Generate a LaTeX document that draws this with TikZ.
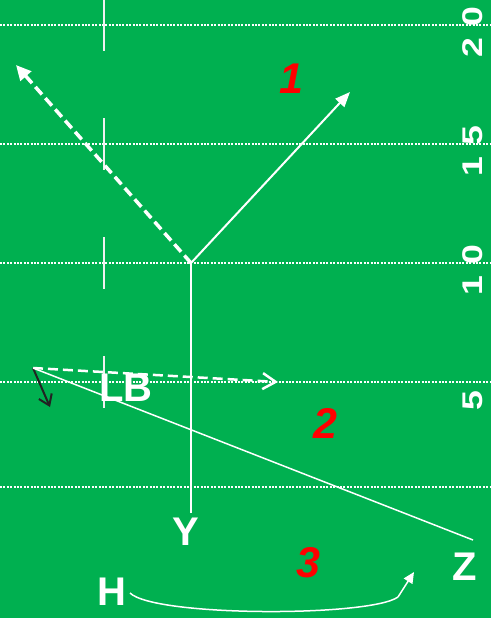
\documentclass[tikz,border=0pt]{standalone}
\usepackage{fontspec}
\setmainfont{Liberation Sans}
\newfontfamily\yardfont[FakeStretch=1.25]{Liberation Sans}
\usetikzlibrary{arrows.meta}
\definecolor{field}{HTML}{00B050}
\definecolor{playred}{HTML}{FF0000}
\definecolor{darkline}{HTML}{222222}
\tikzset{
  yardline/.style={white, line width=1.5pt, dash pattern=on 2pt off 1.4pt},
  hashmark/.style={white!94!black, line width=2pt},
  player/.style={text=white, font=\bfseries\fontsize{40}{40}\selectfont, inner sep=0pt},
  playnum/.style={text=playred, font=\bfseries\itshape\fontsize{43}{43}\selectfont, inner sep=0pt},
  yardnum/.style={text=white, font=\yardfont\bfseries\fontsize{28.5}{28.5}\selectfont, rotate=90, inner sep=0pt},
  route/.style={white, line width=2pt},
  thinroute/.style={white, line width=1.5pt},
  deeproute/.style={white, line width=3.5pt, dash pattern=on 10pt off 5pt},
  lbroute/.style={white, line width=2.5pt, dash pattern=on 10pt off 5pt},
}
\newcommand{\yardgap}{\hspace{11pt}}
\begin{document}
\begin{tikzpicture}[x=1pt,y=-1pt]
  \fill[field] (0,0) rectangle (491,618);
  \useasboundingbox (0,0) rectangle (491,618);

  % yard lines
  \foreach \yy/\nm in {25/a,144/b,263/c,382/d,487/e}{
    \coordinate (yl\nm w) at (0,\yy);
    \coordinate (yl\nm e) at (491,\yy);
    \draw[yardline] (yl\nm w) -- (yl\nm e);
  }
  % hash marks
  \foreach \yy/\nm in {25/a,144/b,263/c,382/d}{
    \coordinate (hm\nm t) at (104,\yy-26);
    \coordinate (hm\nm b) at (104,\yy+26);
    \draw[hashmark] (hm\nm t) -- (hm\nm b);
  }

  % yard numbers
  \node[yardnum] (n20) at (473,32) {2\yardgap 0};
  \node[yardnum] (n15) at (473,151) {1\yardgap 5};
  \node[yardnum] (n10) at (473,270) {1\yardgap 0};
  \node[yardnum] (n5)  at (473,401) {5};

  % player labels
  \node[player] (LB) at (126,388) {LB};
  \node[player] (Y)  at (186,532) {Y};
  \node[player] (Z)  at (465,567) {Z};
  \node[player] (H)  at (112,592) {H};

  % play numbers
  \node[playnum] (p1) at (291,79) {1};
  \node[playnum] (p2) at (325,423) {2};
  \node[playnum] (p3) at (308,563) {3};

  % route points
  \coordinate (V) at (191,263);
  \coordinate (Ybot) at (191,513);
  \coordinate (R1) at (350,92);
  \coordinate (L1) at (16,65);
  \coordinate (LBs) at (33,368);
  \coordinate (LBe) at (278,382);
  \coordinate (LBd) at (50,407);
  \coordinate (Zl) at (473,540);
  \coordinate (Hs) at (130,593);
  \coordinate (He) at (398,597);
  \coordinate (Ht) at (414,572);

  % Y route
  \draw[route] (Ybot) -- (V);
  \draw[route, -{Triangle[length=15pt,width=12pt]}] (V) -- (R1);
  \draw[deeproute, -{Triangle[length=15pt,width=14pt]}] (V) -- (L1);

  % LB
  \draw[lbroute, -{Straight Barb[length=13pt,width=16pt]}] (LBs) -- (LBe);
  \draw[darkline, line width=2pt, -{Straight Barb[length=10pt,width=14pt]}] (LBs) -- (LBd);
  \draw[thinroute] (LBs) -- (Zl);

  % H route
  \draw[thinroute] (Hs) .. controls (155,617) and (370,617) .. (He);
  \draw[thinroute, -{Triangle[length=11pt,width=10pt]}] (He) -- (Ht);
\end{tikzpicture}
\end{document}
